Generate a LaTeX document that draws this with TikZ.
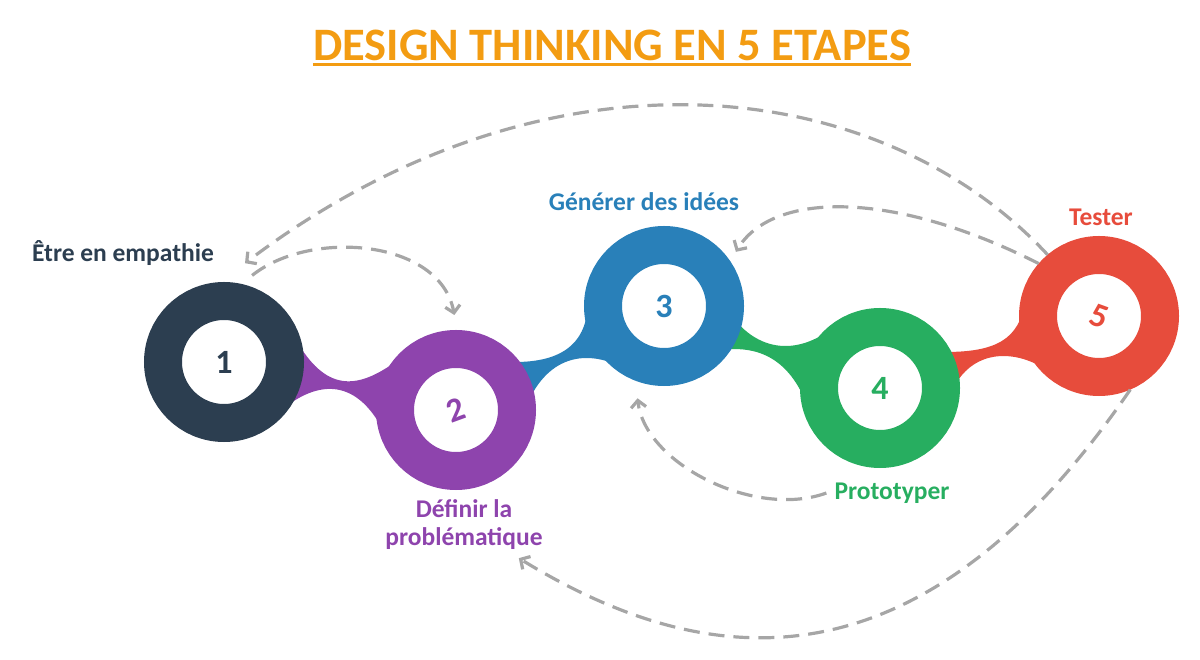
\documentclass[tikz,border=0pt]{standalone}
\usepackage{fontspec}
\setmainfont{Carlito}
\usetikzlibrary{arrows.meta}
\definecolor{cEmp}{HTML}{2C3E50}
\definecolor{cDef}{HTML}{8E44AD}
\definecolor{cIde}{HTML}{2980B9}
\definecolor{cPro}{HTML}{27AE60}
\definecolor{cTes}{HTML}{E74C3C}
\definecolor{cArr}{HTML}{A6A6A6}
\definecolor{cTit}{HTML}{F39C12}
\tikzset{
  ring/.style={circle,minimum size=122pt,inner sep=0pt,line width=38pt,fill=white,
               font=\bfseries\fontsize{34}{34}\selectfont},   % anneau : trait 38pt => 42..80
  lbl/.style={font=\bfseries\fontsize{25.5}{28}\selectfont,align=center,inner sep=2pt},
  back/.style={draw=cArr,line width=3.2pt,dash pattern=on 16pt off 9pt,
               -{Straight Barb[length=7pt,width=15pt]}}
}

\begin{document}
\begin{tikzpicture}[x=1pt,y=1pt]
  \useasboundingbox (0,0) rectangle (1200,659);

  % titre
  \node[font=\bfseries\fontsize{46.5}{50}\selectfont,text=cTit,inner sep=0pt] (title) at (612,614)
    {DESIGN THINKING EN 5 ETAPES};
  \draw[cTit,line width=2.5pt] ([yshift=-4pt]title.south west) -- ([yshift=-4pt]title.south east);

  % liaisons entre les anneaux (couleur de l'etape suivante)
  \fill[cDef] (296,319) .. controls (325,269) and (355,267) .. (398,299) -- (392,209)
              .. controls (365,279) and (325,281) .. (288,254) -- cycle;
  \fill[cIde] (588,359) .. controls (588,314) and (560,297) .. (515,297) -- (530,261)
              .. controls (555,311) and (600,309) .. (636,283) -- cycle;
  \fill[cPro] (735,339) .. controls (760,309) and (795,304) .. (830,329) -- (812,239)
              .. controls (795,299) and (760,314) .. (722,309) -- cycle;
  \fill[cTes] (1025,359) .. controls (1020,319) and (995,307) .. (945,307) -- (955,274)
              .. controls (975,309) and (1015,311) .. (1050,287) -- cycle;

  % anneaux
  \node[ring,draw=cEmp,text=cEmp] (c1) at (224,297) {1};
  \node[ring,draw=cDef,text=cDef] (c2) at (456,249) {\rotatebox{20}{2}};
  \node[ring,draw=cIde,text=cIde] (c3) at (664,353) {3};
  \node[ring,draw=cPro,text=cPro] (c4) at (880,271) {4};
  \node[ring,draw=cTes,text=cTes] (c5) at (1099,343) {\rotatebox{-20}{5}};

  % etiquettes
  \node[lbl,text=cEmp] (lab1) at (123,406) {Être en empathie};
  \node[lbl,text=cDef] (lab2) at (464,134) {Définir la\\problématique};
  \node[lbl,text=cIde] (lab3) at (644,457) {Générer des idées};
  \node[lbl,text=cPro] (lab4) at (892,166) {Prototyper};
  \node[lbl,text=cTes] (lab5) at (1101,442) {Tester};

  % retours
  \draw[back] (c5.130) .. controls (880,585) and (548,625) .. ([shift={(78:21)}]c1.78);
  \draw[back] ([shift={(72:11)}]c1.72) .. controls (310,430) and (440,420) .. ([shift={(91:15)}]c2.91);
  \draw[back] (c5.139) .. controls (891,470) and (772,467) .. ([shift={(37:10)}]c3.37);
  \draw[back] ([xshift=-6pt]lab4.west) .. controls (755,140) and (645,195) .. ([shift={(254:16)}]c3.254);
  \draw[back] (c5.293) .. controls (915,-45) and (700,-10) .. ([shift={(-26,-6)}]lab2.south east);
\end{tikzpicture}
\end{document}
